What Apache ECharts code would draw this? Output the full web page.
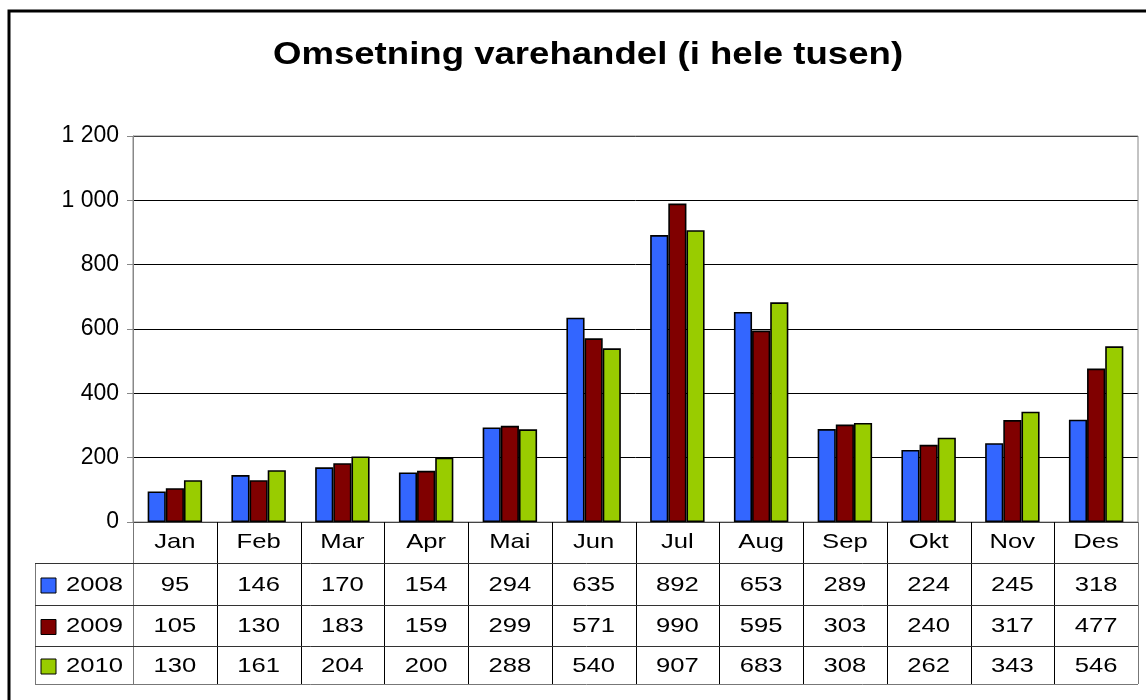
<!DOCTYPE html>
<html>
<head>
<meta charset="utf-8">
<script src="https://cdn.jsdelivr.net/npm/echarts@6/dist/echarts.min.js"></script>
<style>
html,body{margin:0;padding:0;background:#fff;}
#c1{width:1146px;height:700px;}
</style>
</head>
<body>
<div id="c1"></div>
<script>
// data
var months = ['Jan','Feb','Mar','Apr','Mai','Jun','Jul','Aug','Sep','Okt','Nov','Des'];
var years = ['2008','2009','2010'];
var v2008 = [95,146,170,154,294,635,892,653,289,224,245,318];
var v2009 = [105,130,183,159,299,571,990,595,303,240,317,477];
var v2010 = [130,161,204,200,288,540,907,683,308,262,343,546];
var colors = ['#3366FF','#800000','#99CC00'];
var titleText = 'Omsetning varehandel (i hele tusen)';

var FONT = '"Liberation Sans", Arial, sans-serif';
var gridL = 133, gridR = 8, gridT = 136, gridB = 178;
var rowLines = [522, 563, 605, 646, 684];
var tableLeft = 35;
var SX = 1.22; // the original text is drawn wide

function fmt(v) {
	var s = String(v);
	if (s.length > 3) s = s.slice(0, s.length - 3) + ' ' + s.slice(s.length - 3);
	return s;
}

var myChart = echarts.init(document.getElementById('c1'));
var allVals = [v2008, v2009, v2010];
var series = [];
for (var i = 0; i < years.length; i++) {
	series.push({
		name: years[i],
		type: 'bar',
		data: allVals[i],
		barGap: '0%',
		barCategoryGap: '35%',
		itemStyle: { color: colors[i], borderColor: '#000', borderWidth: 1.6 }
	});
}

var option = {
	animation: false,
	backgroundColor: '#fff',
	grid: { left: gridL, right: gridR, top: gridT, bottom: gridB, containLabel: false },
	xAxis: {
		type: 'category',
		data: months,
		axisLine: { lineStyle: { color: '#000', width: 1 } },
		axisTick: { show: false },
		axisLabel: { show: false }
	},
	yAxis: {
		type: 'value',
		min: 0,
		max: 1200,
		interval: 200,
		axisLine: { show: true, lineStyle: { color: '#888' } },
		axisTick: { show: true, length: 6, lineStyle: { color: '#888' } },
		axisLabel: { fontFamily: FONT, fontSize: 23, color: '#000', margin: 14, formatter: fmt },
		splitLine: { lineStyle: { color: '#000', width: 1 } }
	},
	series: series
};
myChart.setOption(option);

function txt(x, y, s, align, size, bold) {
	return { type: 'text', x: x, y: y, scaleX: SX, z: 60,
		style: { text: s, font: (bold ? 'bold ' : '') + size + 'px ' + FONT, fill: '#000',
			align: align, verticalAlign: 'middle' } };
}

// title and data table under the chart
function buildTable() {
	var g = [];
	var x0 = myChart.convertToPixel({ xAxisIndex: 0 }, 0);
	var x1 = myChart.convertToPixel({ xAxisIndex: 0 }, 1);
	var w = x1 - x0;
	var right = x0 - w / 2 + w * months.length;
	var t = txt(588, 55, titleText, 'center', 31, true);
	t.scaleX = 1.18;
	g.push(t);
	// outer chart border
	g.push({ type: 'rect', shape: { x: 9, y: 11, width: 1160, height: 720 },
		style: { fill: null, stroke: '#000', lineWidth: 3 }, z: 100 });
	// plot border
	g.push({ type: 'rect', shape: { x: gridL, y: gridT, width: right - gridL, height: rowLines[0] - gridT },
		style: { fill: null, stroke: '#888', lineWidth: 1 }, z: 1 });
	// vertical lines
	for (var k = 0; k <= months.length; k++) {
		var xx = Math.round(x0 - w / 2 + k * w) + 0.5;
		g.push({ type: 'line', shape: { x1: xx, y1: rowLines[0], x2: xx, y2: rowLines[4] },
			style: { stroke: k == 0 || k == months.length ? '#777' : '#000', lineWidth: 1 }, z: 50 });
	}
	g.push({ type: 'line', shape: { x1: tableLeft + 0.5, y1: rowLines[1], x2: tableLeft + 0.5, y2: rowLines[4] },
		style: { stroke: '#777', lineWidth: 1 }, z: 50 });
	// horizontal lines
	for (var r = 1; r < rowLines.length; r++) {
		g.push({ type: 'line', shape: { x1: tableLeft, y1: rowLines[r] + 0.5, x2: right, y2: rowLines[r] + 0.5 },
			style: { stroke: r == 4 ? '#777' : '#333', lineWidth: 1 }, z: 50 });
	}
	// month labels
	for (var m = 0; m < months.length; m++) {
		var mx = myChart.convertToPixel({ xAxisIndex: 0 }, m);
		g.push(txt(mx, (rowLines[0] + rowLines[1]) / 2, months[m], 'center', 21));
	}
	// row contents
	for (var s = 0; s < years.length; s++) {
		var cy = (rowLines[s + 1] + rowLines[s + 2]) / 2 + 1;
		g.push({ type: 'rect', shape: { x: 41, y: cy - 7, width: 15, height: 15 },
			style: { fill: colors[s], stroke: '#000', lineWidth: 1 }, z: 60 });
		g.push(txt(66, cy, years[s], 'left', 21));
		for (var m2 = 0; m2 < months.length; m2++) {
			var cx = myChart.convertToPixel({ xAxisIndex: 0 }, m2);
			g.push(txt(cx, cy, fmt(allVals[s][m2]), 'center', 21));
		}
	}
	myChart.setOption({ graphic: g });
}
buildTable();
</script>
</body>
</html>
